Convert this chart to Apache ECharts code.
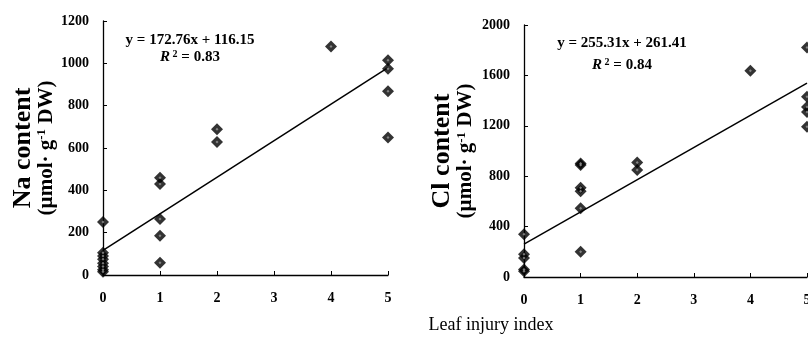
<!DOCTYPE html>
<html>
<head>
<meta charset="utf-8">
<script src="https://cdn.jsdelivr.net/npm/echarts@6/dist/echarts.min.js"></script>
<style>
  html, body { margin: 0; padding: 0; background: #fff; }
  #chart { width: 808px; height: 351px; }
</style>
</head>
<body>
<div id="chart"></div>
<script>
// leaf injury index -> ion content
var naX = [0, 0, 0, 0, 0, 0, 0, 0, 1, 1, 1, 1, 1, 2, 2, 4, 5, 5, 5, 5];
var naY = [250, 105, 90, 75, 55, 40, 25, 15, 460, 430, 265, 185, 58, 688, 628, 1080, 1014, 975, 868, 650];
var clX = [0, 0, 0, 0, 0, 1, 1, 1, 1, 1, 1, 2, 2, 4, 5, 5, 5, 5, 5];
var clY = [340, 180, 150, 60, 45, 900, 888, 708, 680, 545, 200, 908, 850, 1637, 1822, 1430, 1350, 1310, 1192];

// fitted lines
var naFit = {slope: 172.76, icept: 116.15, r2: '0.83'};
var clFit = {slope: 255.31, icept: 261.41, r2: '0.84'};

var serif = 'Liberation Serif';

function pairs(xs, ys) {
    return xs.map(function (x, i) { return [x, ys[i]]; });
}

function fitLine(f) {
    return [[0, f.icept], [5, f.slope * 5 + f.icept]];
}

function xAxisOpt(idx) {
    return {
        gridIndex: idx,
        type: 'value',
        min: 0, max: 5, interval: 1,
        splitLine: {show: false},
        axisLine: {lineStyle: {color: '#000', width: 1.3}},
        axisTick: {inside: true, length: 4, lineStyle: {color: '#000'}},
        axisLabel: {color: '#000', fontFamily: serif, fontWeight: 'bold', fontSize: 14, margin: 16}
    };
}

function yAxisOpt(idx, max, step, nm, gap) {
    return {
        gridIndex: idx,
        type: 'value',
        min: 0, max: max, interval: step,
        splitLine: {show: false},
        axisLine: {show: true, lineStyle: {color: '#000', width: 1.3}},
        axisTick: {show: true, inside: true, length: 4, lineStyle: {color: '#000'}},
        axisLabel: {
            color: '#000', fontFamily: serif, fontWeight: 'bold', fontSize: 14, margin: 14,
            formatter: function (v) { return String(v); }
        },
        name: '{a|' + nm + '}\n{b|(µmol· g}{s|-1}{b| DW)}',
        nameLocation: 'middle',
        nameRotate: 90,
        nameGap: gap,
        nameTextStyle: {
            color: '#000',
            fontFamily: serif,
            fontWeight: 'bold',
            align: 'center',
            rich: {
                a: {fontSize: 26, fontFamily: serif, fontWeight: 'bold', color: '#000', lineHeight: 25},
                b: {fontSize: 21, fontFamily: serif, fontWeight: 'bold', color: '#000', lineHeight: 22},
                s: {fontSize: 13, fontFamily: serif, fontWeight: 'bold', color: '#000', verticalAlign: 'top', lineHeight: 22}
            }
        }
    };
}

function dots(idx, xs, ys) {
    return [{
        type: 'scatter',
        xAxisIndex: idx, yAxisIndex: idx,
        symbol: 'diamond',
        symbolSize: 12,
        itemStyle: {color: '#000'},
        data: pairs(xs, ys),
        z: 3
    }, {
        type: 'scatter',
        xAxisIndex: idx, yAxisIndex: idx,
        symbol: 'diamond',
        symbolSize: 3,
        itemStyle: {color: '#999'},
        data: pairs(xs, ys),
        silent: true,
        z: 4
    }];
}

function trend(idx, f) {
    return {
        type: 'line',
        xAxisIndex: idx, yAxisIndex: idx,
        data: fitLine(f),
        symbol: 'none',
        lineStyle: {color: '#000', width: 1.5},
        z: 2
    };
}

// two centred lines of the fit annotation
function eqText(cx, y1, y2, f) {
    var base = {fontFamily: serif, fontWeight: 'bold', fontSize: 15, fill: '#000'};
    return [{
        type: 'text',
        x: cx, y: y1,
        style: Object.assign({text: 'y = ' + f.slope + 'x + ' + f.icept, align: 'center', verticalAlign: 'middle'}, base)
    }, {
        type: 'text',
        x: cx, y: y2,
        style: {
            text: '{r|R}{p| 2}{e| = ' + f.r2 + '}',
            align: 'center',
            verticalAlign: 'middle',
            rich: {
                e: base,
                r: Object.assign({}, base, {fontStyle: 'italic'}),
                p: Object.assign({}, base, {fontSize: 10, verticalAlign: 'top'})
            }
        }
    }];
}

var chart = echarts.init(document.getElementById('chart'));

var option = {
    animation: false,
    backgroundColor: '#fff',
    grid: [
        {left: 103, top: 21, width: 285, height: 254, outerBoundsMode: 'none'},
        {left: 524, top: 25, width: 283, height: 252, outerBoundsMode: 'none'}
    ],
    xAxis: [xAxisOpt(0), xAxisOpt(1)],
    yAxis: [
        yAxisOpt(0, 1200, 200, 'Na content', 43),
        yAxisOpt(1, 2000, 400, 'Cl content', 47)
    ],
    series: [trend(0, naFit), trend(1, clFit)]
        .concat(dots(0, naX, naY))
        .concat(dots(1, clX, clY)),
    graphic: [
        {
            type: 'text',
            x: 491, y: 325,
            style: {
                text: 'Leaf injury index',
                align: 'center',
                verticalAlign: 'middle',
                fontFamily: serif,
                fontSize: 18,
                fill: '#000'
            }
        }
    ].concat(eqText(190, 40, 57, naFit)).concat(eqText(622, 43, 65, clFit))
};

chart.setOption(option);
</script>
</body>
</html>
